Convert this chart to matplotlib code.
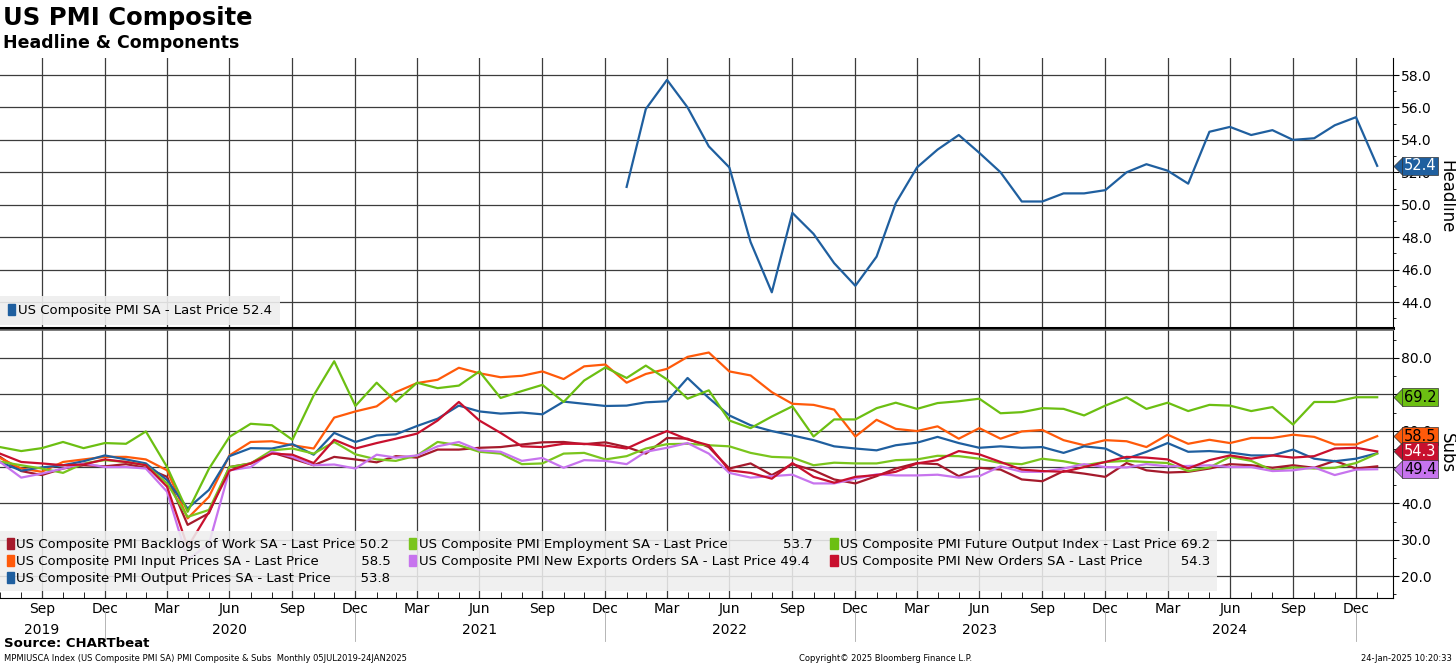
import numpy as np
import pandas as pd
import matplotlib
matplotlib.use('Agg')
import matplotlib.pyplot as plt
import matplotlib.transforms as mtransforms
from matplotlib.patches import Patch
from matplotlib.path import Path
from matplotlib.textpath import TextPath
from matplotlib.font_manager import FontProperties

# ---- DATA (monthly, month-end) ----
months = pd.date_range('2019-07-31', periods=67, freq='ME')
head_months = pd.date_range('2022-01-31', periods=37, freq='ME')

headline = [51.1, 55.9, 57.7, 56.0, 53.6, 52.3, 47.7, 44.6, 49.5, 48.2, 46.4, 45.0,
            46.8, 50.1, 52.3, 53.4, 54.3, 53.2, 52.0, 50.2, 50.2, 50.7, 50.7, 50.9,
            52.0, 52.5, 52.1, 51.3, 54.5, 54.8, 54.3, 54.6, 54.0, 54.1, 54.9, 55.4,
            52.4]

future_output = [55.5, 54.4, 55.2, 56.9, 55.2, 56.6, 56.4, 59.8, 50.0, 37.7, 49.5, 58.3,
                 61.9, 61.5, 57.5, 69.7, 79.1, 66.8,
                 73.2, 68.0, 73.2, 71.7, 72.4, 76.3, 69.0, 70.9, 72.6, 67.9, 73.8, 77.4,
                 74.5, 77.9, 74.1, 68.8, 71.1,
                 62.8, 60.7, 63.9, 66.7, 58.4, 63.1, 63.1, 66.2, 67.7, 66.0, 67.6, 68.1,
                 68.8, 64.8, 65.1, 66.2,
                 66.0, 64.2, 66.9, 69.2, 66.0, 67.7, 65.4, 67.1, 66.9, 65.4, 66.5, 61.7,
                 67.9, 67.9, 69.2, 69.2]
employment = [51.5, 50.5, 49.6, 48.4, 51.0, 51.9, 51.4, 50.5, 45.5, 36.3, 38.2, 50.0,
              51.0, 54.6, 55.1, 53.7, 56.9, 53.5,
              52.1, 51.7, 53.2, 56.9, 56.0, 54.2, 53.7, 50.8, 51.0, 53.7, 53.9, 52.1,
              53.0, 55.1, 56.3, 56.4, 56.0,
              55.7, 53.9, 52.8, 52.6, 50.5, 51.2, 51.0, 51.0, 51.9, 52.1, 53.1, 53.0,
              52.3, 51.1, 50.8, 52.3,
              51.6, 50.5, 51.4, 51.7, 51.4, 51.1, 48.9, 49.9, 52.8, 51.7, 49.1, 49.9,
              49.6, 49.8, 51.1, 53.7]
input_prices = [52.5, 49.6, 48.7, 51.4, 52.1, 52.8, 52.8, 52.1, 49.1, 35.9, 41.8, 53.2,
                56.9, 57.1, 56.0, 55.1, 63.6, 65.3,
                66.7, 70.6, 73.1, 74.0, 77.3, 75.8, 74.7, 75.1, 76.3, 74.2, 77.7, 78.2,
                73.2, 75.6, 77.0, 80.3, 81.5,
                76.3, 75.2, 70.6, 67.4, 67.1, 65.8, 58.4, 63.0, 60.5, 59.9, 61.2, 57.8,
                60.7, 57.8, 59.8, 60.2,
                57.4, 56.0, 57.4, 57.1, 55.5, 58.9, 56.4, 57.5, 56.6, 58.0, 58.0, 58.9,
                58.3, 56.2, 56.2, 58.5]
output_prices = [51.4, 49.0, 49.9, 50.5, 51.6, 53.2, 52.1, 51.0, 46.4, 38.6, 43.7, 53.0,
                 55.2, 55.1, 56.3, 53.4, 59.4, 56.9,
                 58.7, 59.0, 61.3, 63.3, 66.9, 65.3, 64.7, 65.0, 64.5, 68.0, 67.4, 66.8,
                 66.9, 67.8, 68.1, 74.5, 69.0,
                 64.2, 61.5, 59.9, 58.7, 57.4, 55.7, 55.1, 54.6, 56.0, 56.7, 58.3, 56.6,
                 55.3, 55.7, 55.3, 55.5,
                 53.9, 55.7, 55.1, 52.3, 54.2, 56.6, 54.2, 54.4, 54.0, 53.2, 53.2, 54.8,
                 52.3, 51.6, 52.3, 53.8]
new_orders = [53.7, 51.4, 51.0, 50.5, 50.7, 52.1, 51.4, 50.5, 44.6, 28.0, 37.6, 49.0,
              51.0, 53.7, 53.4, 51.1, 57.5, 55.1,
              56.6, 57.8, 59.2, 62.8, 67.9, 62.8, 59.4, 55.7, 55.5, 56.4, 56.4, 55.9,
              55.1, 57.5, 59.9, 57.6, 56.0,
              49.1, 48.4, 46.8, 51.1, 47.3, 45.7, 47.3, 47.8, 48.7, 51.0, 51.9, 54.4,
              53.5, 51.4, 49.3, 48.9,
              48.7, 50.0, 51.4, 52.8, 52.6, 52.1, 49.6, 51.9, 53.2, 52.3, 53.2, 52.6,
              53.0, 55.1, 55.3, 54.3]
backlogs = [52.8, 48.9, 47.8, 49.6, 50.5, 50.2, 50.8, 49.8, 47.3, 34.1, 37.3, 50.0,
            51.0, 54.0, 52.3, 50.5, 52.8, 52.1,
            51.3, 53.0, 52.6, 54.8, 54.8, 55.3, 55.5, 56.2, 56.8, 56.9, 56.3, 56.8,
            55.5, 53.7, 58.0, 57.8, 55.5,
            49.6, 51.0, 47.8, 50.8, 49.1, 46.6, 45.5, 47.5, 49.6, 51.1, 50.8, 47.5,
            49.8, 49.3, 46.6, 46.1,
            48.9, 48.2, 47.3, 51.1, 49.1, 48.5, 48.7, 49.6, 50.8, 50.5, 49.8, 50.5,
            49.8, 51.7, 49.6, 50.2]
new_exports = [51.4, 47.1, 48.2, 49.6, 51.0, 50.0, 50.0, 49.6, 43.2, 24.5, 28.8, 49.1,
               50.0, 54.2, 52.8, 50.5, 50.7, 49.6,
               53.4, 52.6, 53.2, 55.7, 56.9, 54.6, 54.2, 51.7, 52.5, 49.8, 51.9, 51.7,
               50.8, 54.2, 55.3, 56.6, 53.7,
               48.4, 47.1, 47.5, 47.9, 45.5, 45.5, 46.8, 48.0, 47.7, 47.7, 47.9, 47.1,
               47.5, 50.2, 48.7, 48.7,
               49.6, 50.8, 50.0, 49.9, 50.8, 50.2, 50.3, 50.5, 50.0, 50.0, 48.9, 49.1,
               49.9, 47.8, 49.3, 49.4]

# ---- STYLE ----
C_HEAD = '#1f5f9f'
C_BL = '#a51a2c'
C_EM = '#7ac51d'
C_FO = '#6cbf12'
C_IP = '#ff5a0a'
C_NE = '#c774ee'
C_NO = '#c8102e'
C_OP = '#1f5f9f'
GRID = '#3c3c3c'
LW = 1.6
LEG_FS = 9.5

fig = plt.figure(figsize=(14.56, 6.65), dpi=100)
ax1 = fig.add_axes([0, 0.5068, 0.9567, 0.4060])
ax2 = fig.add_axes([0, 0.1008, 0.9567, 0.4030])

xmin = months[0]
xmax = pd.Timestamp('2025-02-23')
quarters = months[months.month % 3 == 0]

for ax in (ax1, ax2):
    ax.set_xlim(xmin, xmax)
    ax.yaxis.tick_right()
    ax.spines['left'].set_visible(False)
    ax.spines['top'].set_visible(False)
    ax.spines['right'].set_color('black')
    ax.set_xticks(quarters)
    ax.set_xticks(months, minor=True)
    ax.grid(True, which='major', color=GRID, lw=0.9)
    ax.set_axisbelow(True)
    ax.tick_params(axis='y', which='major', direction='out', length=4, labelsize=10, pad=2)
    ax.tick_params(axis='y', which='minor', direction='out', length=2.5)

# ---- TOP: headline ----
ax1.plot(head_months, headline, color=C_HEAD, lw=LW)
ax1.set_ylim(42.4, 59.05)
ax1.set_yticks(np.arange(44, 59, 2))
ax1.set_yticks(np.arange(43, 59, 1), minor=True)
ax1.yaxis.set_major_formatter(matplotlib.ticker.FormatStrFormatter('%.1f'))
ax1.tick_params(axis='x', which='both', length=0, labelbottom=False)
ax1.spines['bottom'].set_linewidth(2.2)
ax1.spines['bottom'].set_color('black')

ax1.legend(handles=[Patch(color=C_HEAD, label='US Composite PMI SA - Last Price 52.4')],
           loc='lower left', bbox_to_anchor=(0, 0.01), borderaxespad=0,
           fontsize=LEG_FS, handlelength=0.55, handleheight=0.9, handletextpad=0.2,
           fancybox=False, facecolor='#eeeeee', edgecolor='none', framealpha=0.9,
           borderpad=0.6)

# ---- BOTTOM: subs ----
subs = [
    ('US Composite PMI Backlogs of Work SA - Last Price', backlogs, C_BL),
    ('US Composite PMI Input Prices SA - Last Price', input_prices, C_IP),
    ('US Composite PMI Output Prices SA - Last Price', output_prices, C_OP),
    ('US Composite PMI Employment SA - Last Price', employment, C_EM),
    ('US Composite PMI New Exports Orders SA - Last Price', new_exports, C_NE),
    ('US Composite PMI Future Output Index - Last Price', future_output, C_FO),
    ('US Composite PMI New Orders SA - Last Price', new_orders, C_NO),
]
for name, vals, col in subs:
    ax2.plot(months, vals, color=col, lw=LW)

ax2.set_ylim(14.0, 87.7)
ax2.set_yticks(np.arange(20, 81, 10))
ax2.set_yticks(np.arange(15, 86, 5), minor=True)
ax2.yaxis.set_major_formatter(matplotlib.ticker.FormatStrFormatter('%.1f'))
ax2.spines['top'].set_color('#666666')
ax2.spines['top'].set_linewidth(1.2)
ax2.spines['top'].set_visible(True)

ax2.set_xticklabels(quarters.strftime('%b'))
ax2.tick_params(axis='x', which='major', length=0, labelsize=10, pad=3)
ax2.tick_params(axis='x', which='minor', direction='in', length=4, color='black')

blend = mtransforms.blended_transform_factory(ax2.transData, ax2.transAxes)
for yr, m in [(2019, 9), (2020, 6), (2021, 6), (2022, 6), (2023, 6), (2024, 6)]:
    ax2.text(pd.Timestamp(year=yr, month=m, day=1) + pd.offsets.MonthEnd(0), -0.12, str(yr),
             transform=blend, ha='center', va='center', fontsize=10)
for d in months[months.month == 12]:
    ax2.plot([d, d], [-0.05, -0.16], transform=blend, color='#aaaaaa', lw=0.6, clip_on=False)

# legend with values lined up on the right of each column
fp = FontProperties(family='DejaVu Sans', size=LEG_FS)
def tw(s):
    return TextPath((0, 0), s, prop=fp).get_extents().width
space_w = tw('a a') - tw('aa')

labels = [f'{n}|{v[-1]:.1f}' for n, v, c in subs]
cols = [[0, 1, 2], [3, 4], [5, 6]]
final = [None] * len(subs)
for col in cols:
    parts = [labels[i].split('|') for i in col]
    target = max(tw(b) + space_w + tw(v) for b, v in parts)
    for i, (b, v) in zip(col, parts):
        n = max(1, int(round((target - tw(b) - tw(v)) / space_w)))
        final[i] = b + ' ' * n + v

ax2.legend(handles=[Patch(color=c, label=final[i]) for i, (n, v, c) in enumerate(subs)],
           ncol=3, loc='lower left', bbox_to_anchor=(0, 0.025), borderaxespad=0,
           fontsize=LEG_FS, handlelength=0.55, handleheight=0.9, handletextpad=0.2,
           columnspacing=1.35, labelspacing=0.3, borderpad=0.5,
           fancybox=False, facecolor='#eeeeee', edgecolor='none', framealpha=0.88)

# ---- last value tags on right axis ----
tag_marker = Path([(-0.5, 0), (0.5, -1), (0.5, 1), (-0.5, 0)],
                  [Path.MOVETO, Path.LINETO, Path.LINETO, Path.CLOSEPOLY])

def tag(ax, y, fc, tc):
    tr = mtransforms.blended_transform_factory(ax.transAxes, ax.transData)
    ax.plot([1.0035], [y], marker=tag_marker, ms=13, color=fc, mec='#333333', mew=0.5,
            transform=tr, clip_on=False, zorder=5)
    ax.text(1.0078, y, f'{y:.1f}', transform=tr, ha='left', va='center', fontsize=10.5,
            color=tc, zorder=6,
            bbox=dict(boxstyle='square,pad=0.12', fc=fc, ec='#333333', lw=0.5))

tag(ax1, headline[-1], C_HEAD, 'white')
tag(ax2, future_output[-1], C_FO, 'black')
tag(ax2, input_prices[-1], C_IP, 'black')
tag(ax2, new_orders[-1], C_NO, 'white')
tag(ax2, new_exports[-1], C_NE, 'black')

# ---- titles, axis names and footer ----
fig.text(0.9935, 0.704, 'Headline', rotation=270, fontsize=12, ha='center', va='center')
fig.text(0.9935, 0.319, 'Subs', rotation=270, fontsize=12, ha='center', va='center')
fig.text(0.002, 0.973, 'US PMI Composite', fontsize=17.5, fontweight='bold', va='center')
fig.text(0.002, 0.935, 'Headline & Components', fontsize=12.5, fontweight='bold', va='center')
fig.text(0.003, 0.033, 'Source: CHARTbeat', fontsize=9.5, fontweight='bold', va='center')
fig.text(0.003, 0.010, 'MPMIUSCA Index (US Composite PMI SA) PMI Composite & Subs  Monthly 05JUL2019-24JAN2025',
         fontsize=6, va='center')
fig.text(0.608, 0.010, 'Copyright\u00a9 2025 Bloomberg Finance L.P.', fontsize=6, va='center', ha='center')
fig.text(0.997, 0.010, '24-Jan-2025 10:20:33', fontsize=6, va='center', ha='right')

fig.savefig('out.png', dpi=100)
